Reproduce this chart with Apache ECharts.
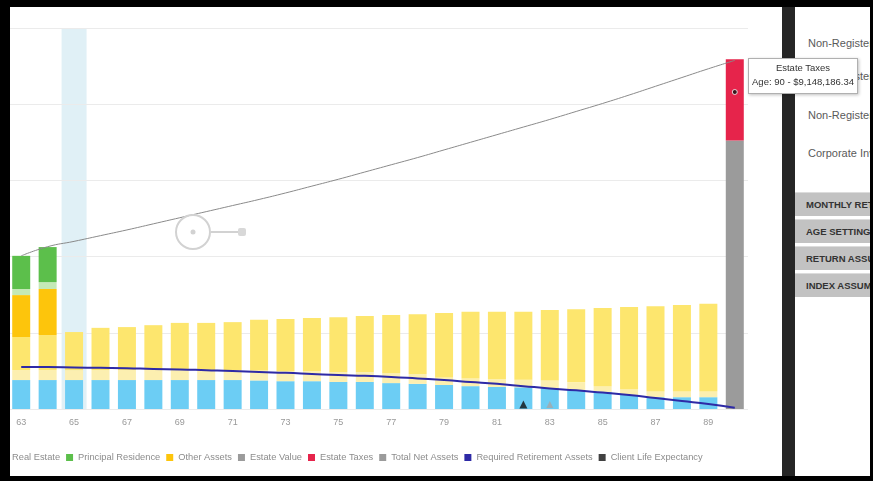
<!DOCTYPE html>
<html>
<head>
<meta charset="utf-8">
<script src="https://cdn.jsdelivr.net/npm/echarts@6/dist/echarts.min.js"></script>
<style>
  body { margin: 0; width: 873px; height: 481px; overflow: hidden; background: #fff; font-family: "Liberation Sans", Arial, sans-serif; }
  #main { position: absolute; left: 0; top: 0; width: 873px; height: 481px; }
  .blk { position: absolute; background: #000; }
  #bar { position: absolute; left: 782px; top: 0; width: 13px; height: 481px; background: #262626; }
  #panel { position: absolute; left: 795px; top: 0; width: 75px; height: 481px; background: #fff; overflow: hidden; white-space: nowrap; }
  #panel .t { position: absolute; left: 13px; font-size: 11px; color: #5a5a5a; }
  #panel .b { position: absolute; left: 0; width: 90px; height: 23px; line-height: 23px; background: #c2c2c2; border-top: 1px solid #dcdcdc;
              padding-left: 11px; font-size: 9.5px; font-weight: bold; color: #333; }
  #tip { position: absolute; left: 748px; top: 58px; width: 108px; height: 32px; background: #fff; border: 1px solid #b0b0b0;
         box-shadow: 1px 1px 3px rgba(0,0,0,0.25); font-size: 9.5px; color: #333; text-align: center; line-height: 14px; padding-top: 2px; }
</style>
</head>
<body>
<div id="main"></div>
<div id="bar"></div>
<div id="panel">
  <div class="t" style="top:-6px">Personal Information</div>
  <div class="t" style="top:37px">Non-Registered Accounts</div>
  <div class="t" style="top:70px">Non-Registered Group</div>
  <div class="t" style="top:109px">Non-Registered Corporate</div>
  <div class="t" style="top:147px">Corporate Investments</div>
  <div class="b" style="top:192px">MONTHLY RETIREMENT</div>
  <div class="b" style="top:219px">AGE SETTINGS</div>
  <div class="b" style="top:246px">RETURN ASSUMPTIONS</div>
  <div class="b" style="top:273px">INDEX ASSUMPTIONS</div>
</div>
<div class="blk" style="left:0;top:0;width:10px;height:481px"></div>
<div class="blk" style="left:0;top:0;width:873px;height:7px"></div>
<div class="blk" style="left:0;top:476px;width:873px;height:5px"></div>
<div class="blk" style="left:870px;top:0;width:3px;height:481px"></div>
<div id="tip">Estate Taxes<br>Age: 90 - $9,148,186.34</div>
<script>
// values in millions of dollars, one per age
var ages = ['63','64','65','66','67','68','69','70','71','72','73','74','75','76',
            '77','78','79','80','81','82','83','84','85','86','87','88','89','90'];

var registered = [0.76,0.76,0.76,0.76,0.76,0.76,0.76,0.76,0.76,0.75,0.73,0.73,0.71,0.71,
                  0.68,0.66,0.63,0.60,0.58,0.57,0.55,0.50,0.45,0.37,0.31,0.31,0.31,null];
var corporate = [0.26,0.26,0.26,0.26,0.26,0.26,0.26,0.26,0.26,0.26,0.26,0.26,0.26,0.26,
                 0.26,0.26,0.20,0.20,0.20,0.20,0.20,0.20,0.15,0.15,0.15,0.15,0.15,null];
var nonRegistered = [0.87,0.92,1.00,1.11,1.13,1.18,1.24,1.24,1.26,1.33,1.37,1.40,1.44,1.47,
                     1.53,1.57,1.69,1.75,1.77,1.78,1.85,1.92,2.05,2.16,2.24,2.27,2.30,null];
var otherAssets = [1.10,1.21];
var realEstate = [0.16,0.18];
var principalResidence = [0.87,0.92];
var estateValue = [null,null,null,null,null,null,null,null,null,null,null,null,null,null,
                   null,null,null,null,null,null,null,null,null,null,null,null,null,7.05];
var estateTaxes = [null,null,null,null,null,null,null,null,null,null,null,null,null,null,
                   null,null,null,null,null,null,null,null,null,null,null,null,null,2.13];
var totalNetAssets = [4.02,4.26,4.40,4.55,4.70,4.86,5.02,5.18,5.34,5.50,5.67,5.85,6.03,6.22,
                      6.41,6.60,6.80,7.00,7.20,7.40,7.60,7.81,8.02,8.24,8.47,8.70,8.93,9.15];
var requiredRetirement = [1.10,1.10,1.09,1.08,1.07,1.05,1.04,1.02,1.00,0.97,0.95,0.92,0.89,0.87,
                          0.84,0.80,0.76,0.71,0.66,0.60,0.54,0.49,0.43,0.37,0.29,0.21,0.13,0.03];
var clientLife = [['82', 0.12]];
var spouseLife = [['83', 0.12]];
var hoverAge = [['65', 10]];
var pointerAt = [['90', 8.32]];

var legendNames = ['Real Estate','Principal Residence','Other Assets','Estate Value','Estate Taxes',
                   'Total Net Assets','Required Retirement Assets','Client Life Expectancy'];

var chart = echarts.init(document.getElementById('main'));

function stackBar(name, data, color) {
  return { name: name, type: 'bar', stack: 'assets', data: data, barWidth: 18,
           itemStyle: { color: color }, z: 2 };
}

chart.setOption({
  animation: false,
  textStyle: { fontFamily: '"Liberation Sans", Arial, sans-serif' },
  grid: { left: 8, right: 125, top: 28, bottom: 72 },
  legend: {
    data: legendNames, left: 0, top: 453, padding: 0, icon: 'rect', itemWidth: 7, itemHeight: 7, itemGap: 6,
    textStyle: { fontSize: 9.3, color: '#8c8c8c' }
  },
  xAxis: [{
    type: 'category', data: ages,
    axisLine: { show: false }, axisTick: { show: false },
    axisLabel: { interval: 1, color: '#999', fontSize: 9, margin: 9 }
  }, {
    type: 'category', data: ages, show: false
  }],
  yAxis: {
    type: 'value', min: 0, max: 10, interval: 2,
    axisLabel: { show: false }, axisLine: { show: false }, axisTick: { show: false },
    splitLine: { lineStyle: { color: '#ebebeb' } }
  },
  graphic: [
    { type: 'circle', shape: { cx: 193, cy: 232, r: 17 }, style: { fill: 'none', stroke: '#d2d2d2', lineWidth: 2 }, z: 10 },
    { type: 'circle', shape: { cx: 193, cy: 232, r: 2.5 }, style: { fill: '#d2d2d2' }, z: 10 },
    { type: 'line', shape: { x1: 211, y1: 232, x2: 239, y2: 232 }, style: { stroke: '#d2d2d2', lineWidth: 2 }, z: 10 },
    { type: 'rect', shape: { x: 238, y: 228, width: 8, height: 8, r: 2 }, style: { fill: '#d8d8d8' }, z: 10 }
  ],
  series: [
    { name: 'hover', type: 'bar', xAxisIndex: 1, data: hoverAge, barWidth: 25,
      itemStyle: { color: '#e0f0f6' }, z: -1, silent: true },
    stackBar('Registered', registered, '#6ccdf4'),
    stackBar('Corporate', corporate, '#fcefb0'),
    stackBar('Non-Registered', nonRegistered, '#fde66e'),
    stackBar('Other Assets', otherAssets, '#fdc50c'),
    stackBar('Real Estate', realEstate, '#c4e9b6'),
    stackBar('Principal Residence', principalResidence, '#5cbf4b'),
    stackBar('Estate Value', estateValue, '#9b9b9b'),
    stackBar('Estate Taxes', estateTaxes, '#e6244b'),
    { name: 'Total Net Assets', type: 'line', data: totalNetAssets, smooth: true, showSymbol: false,
      lineStyle: { color: '#8a8a8a', width: 1 }, itemStyle: { color: '#9b9b9b' }, z: 5 },
    { name: 'Required Retirement Assets', type: 'line', data: requiredRetirement, smooth: true, showSymbol: false,
      lineStyle: { color: '#2e2aa6', width: 2 }, itemStyle: { color: '#2e2aa6' }, z: 5 },
    { name: 'Client Life Expectancy', type: 'scatter', data: clientLife, symbol: 'triangle', symbolSize: 8,
      itemStyle: { color: '#111' }, z: 6 },
    { name: 'Spouse Life Expectancy', type: 'scatter', data: spouseLife, symbol: 'triangle', symbolSize: 7,
      itemStyle: { color: '#a8a8a8' }, z: 6 },
    { name: 'pointer', type: 'scatter', data: pointerAt, symbol: 'circle', symbolSize: 5,
      itemStyle: { color: '#111', borderColor: '#fff', borderWidth: 1 }, z: 7 }
  ]
});
</script>
</body>
</html>
